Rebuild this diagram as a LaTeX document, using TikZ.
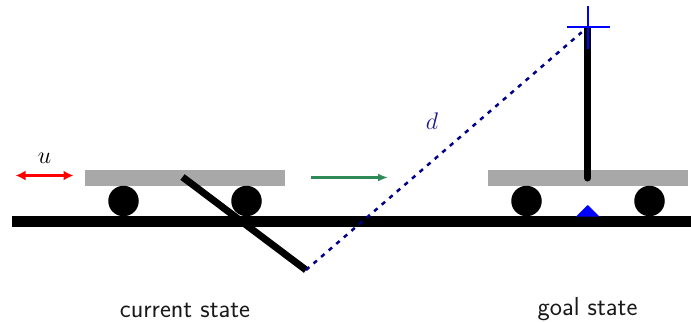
\documentclass[tikz,border=0pt]{standalone}
\usepackage{fix-cm}
\usetikzlibrary{arrows.meta}
\definecolor{cartgray}{RGB}{168,168,168}
\definecolor{darkblue}{RGB}{0,0,139}
\definecolor{seagreen}{RGB}{46,139,87}
\definecolor{dlabel}{RGB}{25,25,140}
\tikzset{
  cartbox/.style={fill=cartgray,draw=none,minimum width=200.5pt,minimum height=16pt,inner sep=0pt,outer sep=0pt},
  wheel/.style={circle,fill=black,draw=none,minimum size=30.5pt,inner sep=0pt},
  poleline/.style={line width=7pt,black},
  caption/.style={font=\sffamily\fontsize{26}{28}\selectfont,text=black!90},
  point/.style={inner sep=0pt,outer sep=0pt}
}
\begin{document}
\begin{tikzpicture}[x=1pt,y=-1pt]
\useasboundingbox (0,0) rectangle (691,322);
% track
\fill[black] (11.5,216) rectangle (691,227);
% carts
\node[cartbox] (cartA) at (185,178) {};
\node[cartbox] (cartB) at (587.75,178) {};
\node[wheel] (wA1) at (123.5,201) {};
\node[wheel] (wA2) at (246.5,201) {};
\node[wheel] (wB1) at (526.5,201) {};
\node[wheel] (wB2) at (649.5,201) {};
% goal marker
\fill[blue] (576,216.5) -- (587.75,205) -- (599.5,216.5) -- cycle;
% poles
\coordinate (pivA) at (182.5,177);
\coordinate (tipA) at (306,270);
\coordinate (pivB) at (587.75,178);
\coordinate (midB) at (587.75,31);
\coordinate (tipB) at (587.75,28);
\draw[poleline] (pivA) -- (tipA);
\draw[poleline,line cap=round] (pivB) -- (midB);
\draw[poleline] (midB) -- (tipB);
% distance
\coordinate (cross) at (587.75,27);
\coordinate (crossW) at (566.5,27);
\coordinate (crossE) at (609.5,27);
\coordinate (crossN) at (587.75,6);
\coordinate (crossS) at (587.75,49);
\draw[darkblue,line width=2.5pt,dash pattern=on 4.4pt off 5.6pt,shorten >=8pt] (tipA) -- (cross);
\draw[blue,line width=2.5pt] (crossW) -- (crossE);
\draw[blue,line width=2.5pt] (crossN) -- (crossS);
\node[point,text=dlabel,font=\fontsize{24}{26}\selectfont] (dlab) at (432,121) {$d$};
% control
\coordinate (uL) at (15.5,175.5);
\coordinate (uR) at (73.5,175.5);
\draw[red,line width=2.6pt,{Latex[length=10pt,width=10pt]}-{Latex[length=10pt,width=10pt]}] (uL) -- (uR);
\node[point,font=\fontsize{24}{26}\selectfont] (ulab) at (44.5,158) {$u$};
% motion
\coordinate (gL) at (311,177.5);
\coordinate (gR) at (388,177.5);
\draw[seagreen,line width=2.4pt,-{Latex[length=10pt,width=8pt]}] (gL) -- (gR);
% captions
\node[caption] (cur) at (185,310) {current state};
\node[caption] (goal) at (587.5,309) {goal state};
\end{tikzpicture}
\end{document}
